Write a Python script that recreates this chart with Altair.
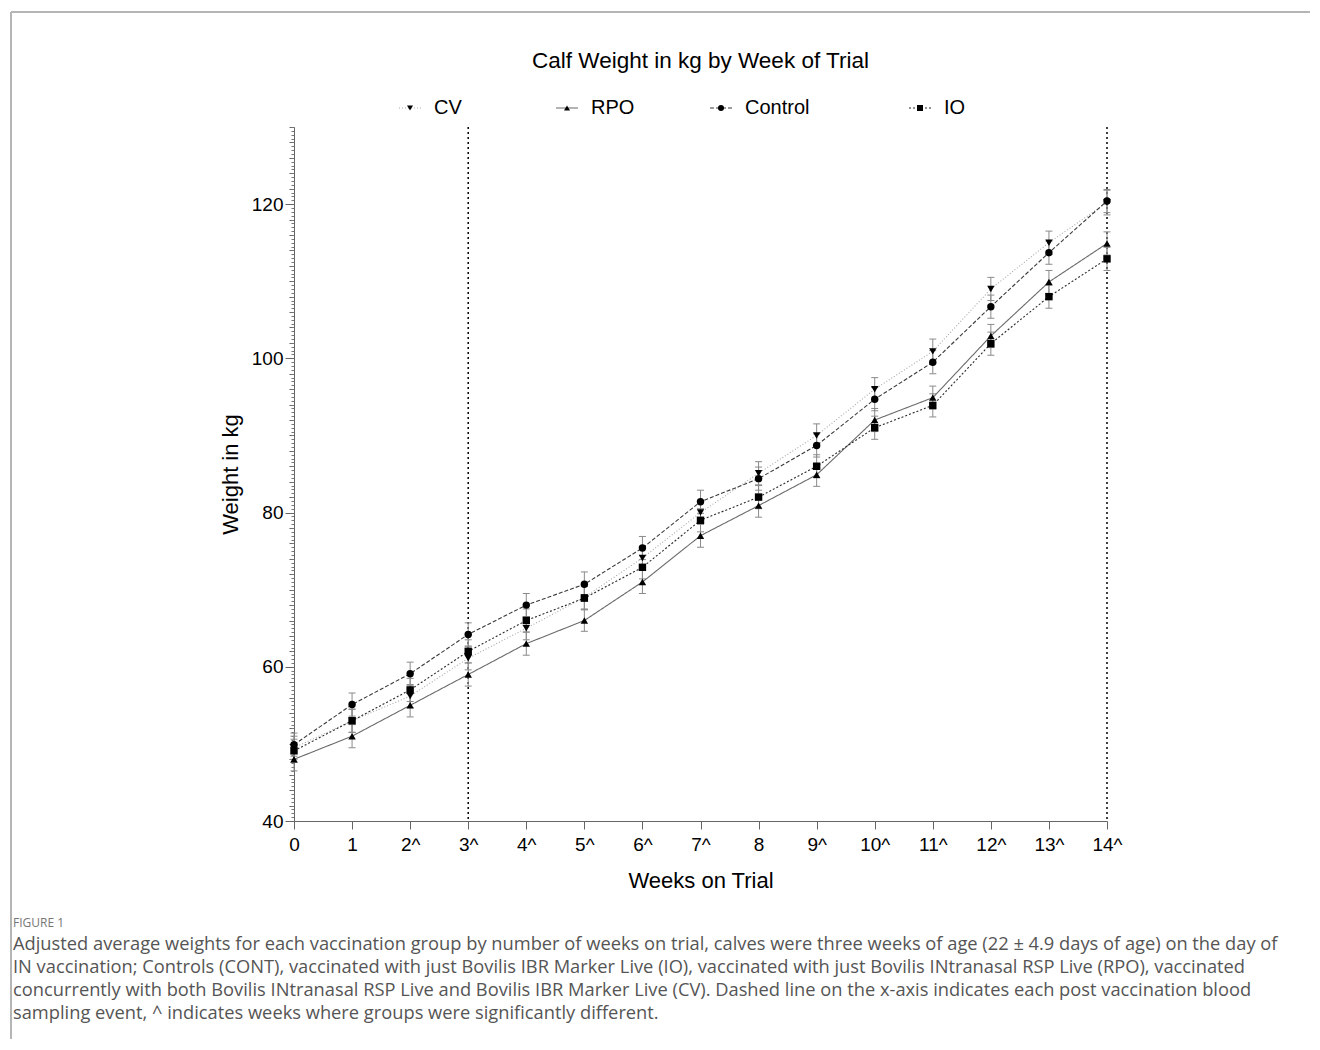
import altair as alt
import pandas as pd

# ---------------- data ----------------
weeks = list(range(15))
week_labels = ["0", "1", "2^", "3^", "4^", "5^", "6^", "7^", "8", "9^", "10^", "11^", "12^", "13^", "14^"]
series_names = ["CV", "RPO", "Control", "IO"]

cv = [49.5, 53.0, 56.2, 61.1, 65.0, 69.0, 74.1, 80.0, 85.1, 90.0, 96.0, 100.9, 109.0, 115.0, 120.2]
rpo = [48.0, 51.0, 55.0, 59.0, 63.0, 66.0, 71.0, 77.0, 80.9, 84.9, 92.0, 94.9, 102.9, 109.9, 114.9]
control = [49.9, 55.1, 59.1, 64.2, 68.0, 70.7, 75.4, 81.4, 84.4, 88.7, 94.7, 99.5, 106.7, 113.7, 120.4]
io = [49.1, 53.0, 57.0, 62.0, 66.0, 68.9, 72.9, 79.0, 82.0, 86.0, 91.0, 93.9, 101.9, 108.0, 112.9]

cv_se = [1.5, 1.5, 1.5, 1.5, 1.5, 1.5, 1.5, 1.5, 1.5, 1.5, 1.5, 1.6, 1.5, 1.5, 1.6]
rpo_se = [1.5, 1.5, 1.5, 1.5, 1.5, 1.4, 1.5, 1.5, 1.5, 1.5, 1.5, 1.5, 1.5, 1.5, 1.5]
control_se = [1.5, 1.5, 1.5, 1.5, 1.5, 1.6, 1.5, 1.5, 1.5, 1.5, 1.5, 1.5, 1.5, 1.5, 1.5]
io_se = [1.5, 1.5, 1.5, 1.5, 1.5, 1.5, 1.5, 1.5, 1.5, 1.5, 1.5, 1.5, 1.5, 1.5, 1.5]

sampling_weeks = [3, 14]

y_major_ticks = [40, 60, 80, 100, 120]
y_domain = [40, 130]

title_text = "Calf Weight in kg by Week of Trial"
x_title = "Weeks on Trial"
y_title = "Weight in kg"
figure_label = "FIGURE 1"
caption_lines = [
    "Adjusted average weights for each vaccination group by number of weeks on trial, calves were three weeks of age (22\u00a0\u00b1\u00a04.9 days of age) on the day of",
    "IN vaccination; Controls (CONT), vaccinated with just Bovilis IBR Marker Live (IO), vaccinated with just Bovilis INtranasal RSP Live (RPO), vaccinated",
    "concurrently with both Bovilis INtranasal RSP Live and Bovilis IBR Marker Live (CV). Dashed line on the x-axis indicates each post vaccination blood",
    "sampling event, ^ indicates weeks where groups were significantly different.",
]

# ---------------- table ----------------
rows = []
for name, vals, ses in [("CV", cv, cv_se), ("RPO", rpo, rpo_se), ("Control", control, control_se), ("IO", io, io_se)]:
    for w, v, s in zip(weeks, vals, ses):
        rows.append({"series": name, "week": w, "weight": v, "lo": v - s, "hi": v + s})
df = pd.DataFrame(rows)
one = pd.DataFrame({"k": [0]})

W, H = 813, 694
FONT = "Liberation Sans"

label_js = "[" + ",".join("'" + l + "'" for l in week_labels) + "]"

x_scale = alt.Scale(domain=[0, 14], nice=False, zero=False)
y_scale = alt.Scale(domain=y_domain, nice=False, zero=False)

x_axis = alt.Axis(values=weeks, labelExpr=label_js + "[datum.value]", title=x_title,
                  tickSize=8, labelPadding=6, titlePadding=16, labelFontSize=19,
                  titleFontSize=22, labelFont=FONT, titleFont=FONT, labelColor="black",
                  titleColor="black", titleFontWeight="normal", domainColor="#666",
                  tickColor="#666", grid=False, labelFlush=False)
x_enc = alt.X("week:Q", scale=x_scale, axis=x_axis)

y_major_axis = alt.Axis(orient="left", values=y_major_ticks, title=y_title, tickSize=9,
                        labelPadding=2, titlePadding=9, labelFontSize=19, titleFontSize=22,
                        labelFont=FONT, titleFont=FONT, labelColor="black", titleColor="black",
                        titleFontWeight="normal", domainColor="#666", tickColor="#666",
                        grid=False)
y_medium_axis = alt.Axis(orient="left", values=[40 + 2 * i for i in range(46)], title=None,
                         labels=False, domain=False, tickSize=5, tickColor="#666", grid=False)
y_minor_axis = alt.Axis(orient="left", values=[40 + 0.5 * i for i in range(181)], title=None,
                        labels=False, domain=False, tickSize=3, tickColor="#777", grid=False)

dash_scale = alt.Scale(domain=series_names, range=[[1, 2], [1, 0], [4, 2], [2, 2]])
color_scale = alt.Scale(domain=series_names, range=["#a8a8a8", "#6a6a6a", "#3a3a3a", "#2a2a2a"])
shape_scale = alt.Scale(domain=series_names, range=["triangle-down", "triangle-up", "circle", "square"])

base = alt.Chart(df)

vrules = alt.Chart(pd.DataFrame({"week": sampling_weeks})).mark_rule(
    color="black", strokeDash=[2, 3], strokeWidth=1.5
).encode(x=x_enc)

errbars = base.mark_rule(color="#8a8a8a", strokeWidth=1).encode(
    x=x_enc, y=alt.Y("lo:Q", scale=y_scale, axis=y_medium_axis), y2="hi:Q"
)
caps_lo = base.mark_tick(orient="horizontal", size=7, thickness=1, color="#8a8a8a", opacity=1).encode(
    x=x_enc, y=alt.Y("lo:Q", scale=y_scale, axis=y_minor_axis)
)
caps_hi = base.mark_tick(orient="horizontal", size=7, thickness=1, color="#8a8a8a", opacity=1).encode(
    x=x_enc, y=alt.Y("hi:Q", scale=y_scale, axis=None)
)
lines = base.mark_line(strokeWidth=1.1).encode(
    x=x_enc,
    y=alt.Y("weight:Q", scale=y_scale, axis=y_major_axis),
    color=alt.Color("series:N", scale=color_scale, legend=None),
    strokeDash=alt.StrokeDash("series:N", scale=dash_scale, legend=None),
)
points = base.mark_point(filled=True, color="black", opacity=1, size=55).encode(
    x=x_enc,
    y=alt.Y("weight:Q", scale=y_scale, axis=None),
    shape=alt.Shape("series:N", scale=shape_scale, legend=None),
)

inner = alt.layer(vrules, errbars, caps_lo, caps_hi, lines, points).resolve_axis(y="independent")

# ---------------- legend (drawn from the series list) ----------------
leg_df = pd.DataFrame({"series": series_names})
legend_slots = [116, 273, 427, 626]   # layout positions of the legend entries
leg_y = -19
legend_layers = []
for name, px in zip(series_names, legend_slots):
    src = alt.Chart(leg_df).transform_filter(alt.datum.series == name)
    legend_layers.append(src.mark_rule(xOffset=-11, x2Offset=11, strokeWidth=1.1).encode(
        x=alt.value(px), x2=alt.value(px), y=alt.value(leg_y),
        color=alt.Color("series:N", scale=color_scale, legend=None),
        strokeDash=alt.StrokeDash("series:N", scale=dash_scale, legend=None),
    ))
    legend_layers.append(src.mark_point(filled=True, color="black", opacity=1, size=36).encode(
        x=alt.value(px), y=alt.value(leg_y),
        shape=alt.Shape("series:N", scale=shape_scale, legend=None),
    ))
    legend_layers.append(src.mark_text(align="left", baseline="middle", dx=24, fontSize=20,
                                       font=FONT, color="black").encode(
        x=alt.value(px), y=alt.value(leg_y), text="series:N"
    ))

# ---------------- texts & frame ----------------
title_mark = alt.Chart(one).mark_text(align="center", baseline="middle", fontSize=22.5, font=FONT,
                                      color="black").encode(
    x=alt.value(W / 2), y=alt.value(-66), text=alt.value(title_text)
)
fig_mark = alt.Chart(one).mark_text(align="left", baseline="middle", fontSize=12, font="Open Sans",
                                    color="#777").encode(
    x=alt.value(-281), y=alt.value(796), text=alt.value(figure_label)
)
cap_mark = alt.Chart(one).mark_text(align="left", baseline="middle", fontSize=18.3, font="Open Sans",
                                    color="#555", lineBreak="\n", lineHeight=23).encode(
    x=alt.value(-281), y=alt.value(818), text=alt.value("\n".join(caption_lines))
)
frame_top = alt.Chart(one).mark_rule(color="#b5b5b5", strokeWidth=2).encode(
    x=alt.value(-283), x2=alt.value(1016), y=alt.value(-115)
)
frame_left = alt.Chart(one).mark_rule(color="#b5b5b5", strokeWidth=2).encode(
    x=alt.value(-283), y=alt.value(-115), y2=alt.value(912)
)

chart = alt.layer(
    frame_top, frame_left, inner, *legend_layers, title_mark, fig_mark, cap_mark
).properties(
    width=W, height=H, padding={"left": 2, "top": 3, "right": 0, "bottom": 0}
).configure_view(stroke=None).configure_axis(grid=False)

chart.save("out.html", embed_options={"renderer": "svg", "actions": False})
